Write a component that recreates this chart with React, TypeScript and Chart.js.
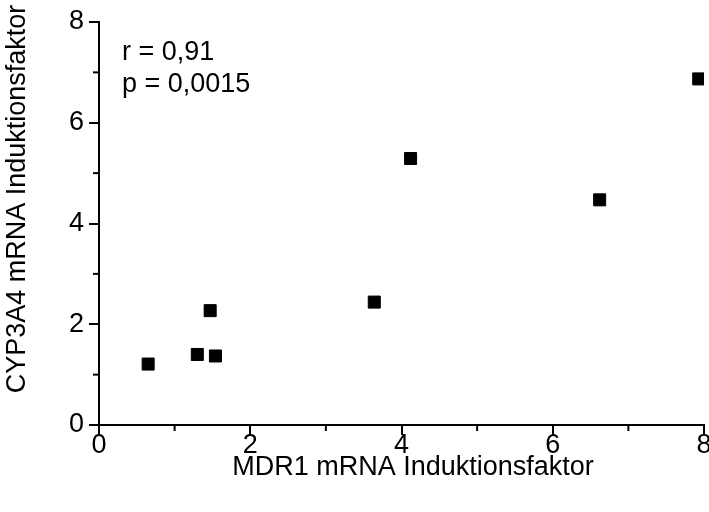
import React, { useEffect, useRef } from 'react';
import { Chart, registerables } from 'chart.js';
Chart.register(...registerables);

const mdr1 = [0.65, 1.3, 1.54, 1.47, 3.64, 4.12, 6.62, 7.93];
const cyp3a4 = [1.21, 1.4, 1.37, 2.27, 2.44, 5.29, 4.47, 6.87];
const xTitle = 'MDR1 mRNA Induktionsfaktor';
const yTitle = 'CYP3A4 mRNA Induktionsfaktor';
const statLines = ['r = 0,91', 'p = 0,0015'];
const axisMin = 0;
const axisMax = 8;
const minorTicks = [1, 3, 5, 7];

const FONT = '"Liberation Sans", Arial, sans-serif';
const FS = 27;

const decorPlugin = {
  id: 'decor',
  afterDraw(chart: any) {
    const { ctx, scales, chartArea } = chart;
    ctx.save();
    ctx.strokeStyle = '#000';
    ctx.lineWidth = 2;
    for (const v of minorTicks) {
      const x = scales.x.getPixelForValue(v);
      ctx.beginPath();
      ctx.moveTo(x, chartArea.bottom);
      ctx.lineTo(x, chartArea.bottom + 6);
      ctx.stroke();
      const y = scales.y.getPixelForValue(v);
      ctx.beginPath();
      ctx.moveTo(chartArea.left, y);
      ctx.lineTo(chartArea.left - 6, y);
      ctx.stroke();
    }
    ctx.fillStyle = '#000';
    ctx.font = `${FS}px ${FONT}`;
    ctx.textBaseline = 'middle';
    ctx.textAlign = 'left';
    statLines.forEach((t, i) => {
      ctx.fillText(t, chartArea.left + 23, chartArea.top + 31 + i * 32);
    });
    ctx.textAlign = 'center';
    ctx.fillText(xTitle, 413, 468);
    ctx.translate(18, 199);
    ctx.rotate(-Math.PI / 2);
    ctx.fillText(yTitle, 0, 0);
    ctx.restore();
  },
};

export default function App() {
  const ref = useRef<HTMLCanvasElement>(null);
  useEffect(() => {
    document.body.style.margin = '0';
    const data = mdr1.map((x, i) => ({ x, y: cyp3a4[i] }));
    const axisCommon = (isX: boolean) => ({
      type: 'linear',
      min: axisMin,
      max: axisMax,
      border: { display: true, color: '#000', width: 2 },
      grid: {
        display: true,
        drawOnChartArea: false,
        drawTicks: true,
        tickLength: 10,
        tickWidth: 2,
        lineWidth: 2,
        tickColor: (c: any) => (c.tick && c.tick.value % 2 === 0 ? '#000' : 'rgba(0,0,0,0)'),
      },
      ticks: {
        stepSize: 1,
        color: '#000',
        font: { family: FONT, size: FS },
        padding: isX ? -6 : 5,
        maxRotation: 0,
        autoSkip: false,
        callback: (v: any) => (Number(v) % 2 === 0 ? String(v) : ''),
      },
      title: { display: false },
      afterFit: (s: any) => {
        if (isX) {
          s.height = 87;
          s.paddingLeft = 0;
          s.paddingRight = 0;
        } else {
          s.width = 99;
          s.paddingTop = 0;
          s.paddingBottom = 0;
        }
      },
    });
    const chart = new Chart(ref.current!, {
      type: 'scatter',
      data: {
        datasets: [
          {
            data,
            pointStyle: 'rect',
            pointRadius: 8.5,
            pointHoverRadius: 8.5,
            backgroundColor: '#000',
            borderColor: '#000',
            borderWidth: 1,
          },
        ],
      },
      options: {
        responsive: false,
        animation: false,
        layout: { padding: { top: 22, right: 16, left: 0, bottom: 0 } },
        plugins: { legend: { display: false }, tooltip: { enabled: false } },
        scales: {
          x: axisCommon(true) as any,
          y: axisCommon(false) as any,
        },
      },
      plugins: [decorPlugin],
    });
    return () => chart.destroy();
  }, []);
  return (
    <div style={{ width: 709, height: 512, overflow: 'hidden', background: '#fff' }}>
      <canvas ref={ref} width={720} height={512} style={{ display: 'block' }} />
    </div>
  );
}
